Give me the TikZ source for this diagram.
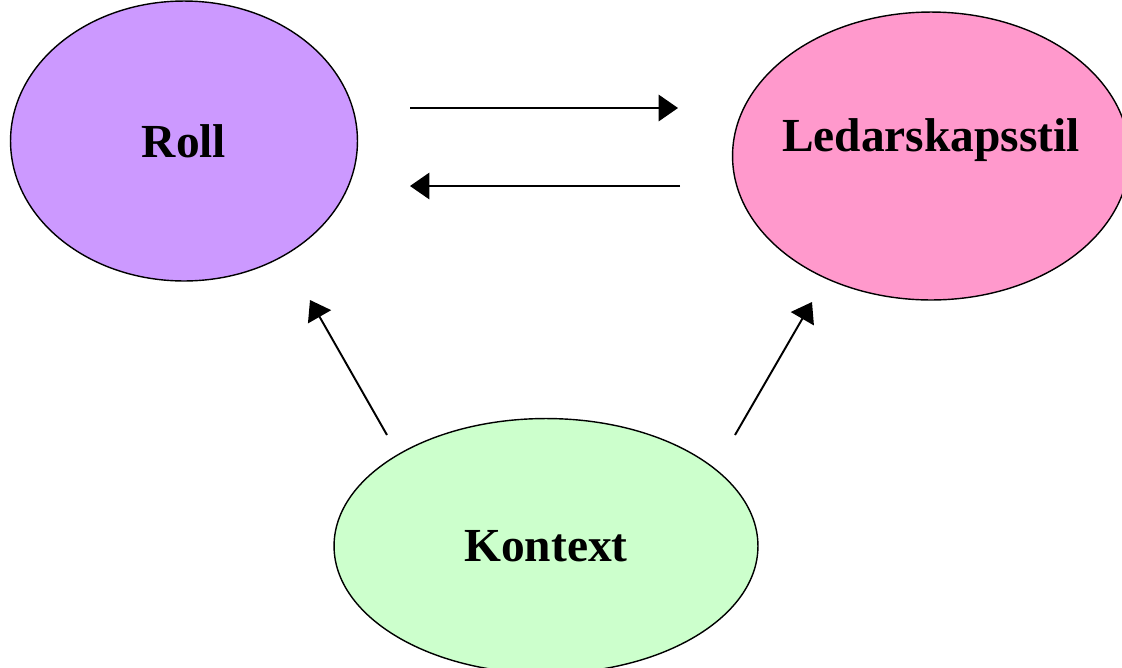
\documentclass[tikz,border=0pt]{standalone}
\usepackage{fontspec}
\setmainfont{Liberation Serif}
\usetikzlibrary{shapes, arrows.meta, positioning}
\definecolor{rollfill}{HTML}{CC99FF}
\definecolor{stilfill}{HTML}{FF99CC}
\definecolor{kontextfill}{HTML}{CCFFCC}
\begin{document}
\begin{tikzpicture}[
    x=0.02cm, y=-0.02cm,
    factor/.style={ellipse, draw, line width=0.8pt, font=\fontsize{27}{30}\selectfont\bfseries},
    link/.style={-{Triangle[length=11pt, width=15pt]}, line width=1.1pt}
]
\clip (0,0) rectangle (1122,667);

% faktorer
\node[factor, fill=rollfill, minimum width=6.94cm, minimum height=5.6cm] (Roll) at (184,141) {Roll};
\node[factor, fill=stilfill, minimum width=7.94cm, minimum height=5.76cm,
      label={[font=\fontsize{27}{30}\selectfont\bfseries, yshift=0.32cm]center:Ledarskapsstil}] (Stil) at (931,156) {};
\node[factor, fill=kontextfill, minimum width=8.48cm, minimum height=5.1cm] (Kontext) at (546,546) {Kontext};

% samband
\coordinate (rA) at (410,108);
\coordinate (rB) at (678,108);
\coordinate (lA) at (680,186);
\coordinate (lB) at (410,186);
\draw[link] (rA) -- (rB);
\draw[link] (lA) -- (lB);
\coordinate (kL) at (387,435);
\coordinate (kR) at (735,435);
\coordinate (tL) at (310,300);
\coordinate (tR) at (812,302);
\draw[link] (kL) -- (tL);
\draw[link] (kR) -- (tR);

\end{tikzpicture}
\end{document}
